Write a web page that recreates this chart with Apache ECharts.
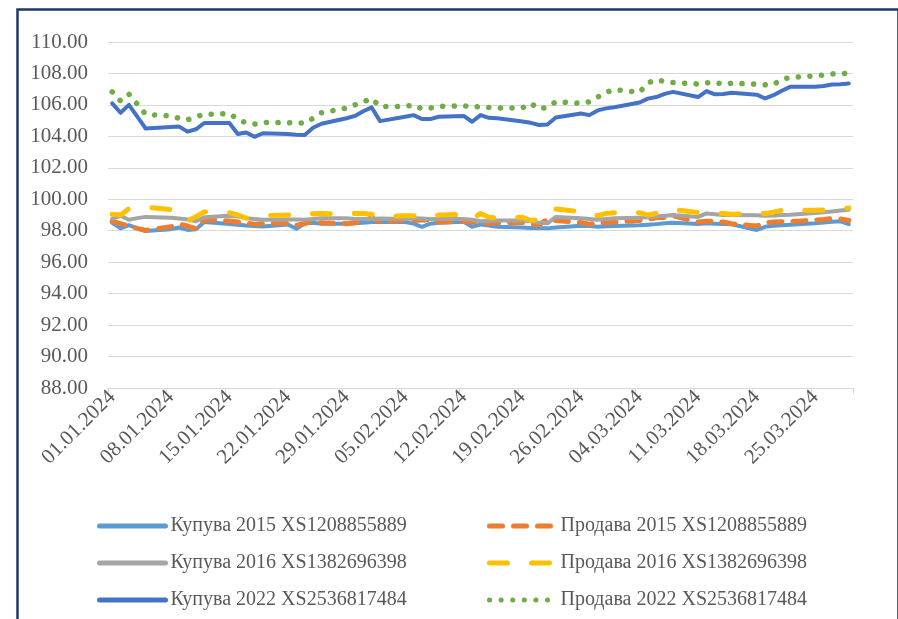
<!DOCTYPE html>
<html>
<head>
    <meta charset="utf-8">
    <title>echarts</title>
    <style>
        html, body { margin: 0; padding: 0; background: #fff; }
        #main { width: 898px; height: 619px; }
    </style>
</head>
<body>
    <div id="main"></div>
    <script src="https://cdn.jsdelivr.net/npm/echarts@6/dist/echarts.min.js"></script>
    <script>
    // calendar axis: 01.01.2024 .. 29.03.2024, values only on weekdays
    var startDate = new Date(2024, 0, 1);
    var dayCount = 89;

    var seriesNames = [
        'Купува 2015 XS1208855889', 'Продава 2015 XS1208855889',
        'Купува 2016 XS1382696398', 'Продава 2016 XS1382696398',
        'Купува 2022 XS2536817484', 'Продава 2022 XS2536817484'
    ];

    var buy2015 = [
        98.50, 98.15, 98.35, 98.15, 97.98,
        98.10, 98.20, 98.05, 98.10, 98.55,
        98.43, 98.38, 98.33, 98.30, 98.27,
        98.40, 98.12, 98.47, 98.50, 98.45,
        98.45, 98.47, 98.50, 98.55, 98.57,
        98.55, 98.45, 98.25, 98.45, 98.50,
        98.57, 98.25, 98.40, 98.33, 98.25,
        98.20, 98.18, 98.17, 98.15, 98.20,
        98.32, 98.30, 98.25, 98.28, 98.30,
        98.35, 98.38, 98.42, 98.47, 98.50,
        98.42, 98.47, 98.45, 98.43, 98.41,
        98.05, 98.25, 98.32, 98.35, 98.38,
        98.47, 98.52, 98.57, 98.60, 98.42
    ];
    var sell2015 = [
        98.60, 98.45, 98.30, 98.15, 98.02,
        98.25, 98.42, 98.30, 98.12, 98.70,
        98.62, 98.55, 98.48, 98.42, 98.45,
        98.50, 98.35, 98.45, 98.60, 98.50,
        98.45, 98.50, 98.60, 98.85, 98.55,
        98.68, 98.65, 98.68, 98.68, 98.55,
        98.60, 98.55, 98.50, 98.47, 98.50,
        98.52, 98.45, 98.36, 98.74, 98.65,
        98.52, 98.42, 98.47, 98.52, 98.55,
        98.65, 98.72, 98.82, 98.85, 98.95,
        98.55, 98.60, 98.60, 98.55, 98.45,
        98.30, 98.50, 98.55, 98.57, 98.58,
        98.68, 98.72, 98.78, 98.75, 98.65
    ];
    var buy2016 = [
        98.75, 98.95, 98.70, 98.80, 98.88,
        98.82, 98.78, 98.72, 98.60, 98.85,
        98.95, 98.90, 98.80, 98.75, 98.70,
        98.72, 98.72, 98.70, 98.75, 98.80,
        98.80, 98.75, 98.75, 98.75, 98.78,
        98.75, 98.80, 98.78, 98.75, 98.75,
        98.74, 98.70, 98.60, 98.62, 98.65,
        98.65, 98.60, 98.50, 98.47, 98.88,
        98.80, 98.75, 98.70, 98.75, 98.80,
        98.83, 98.85, 98.90, 98.95, 99.00,
        98.88, 99.10, 99.05, 99.00, 99.00,
        98.98, 98.95, 98.97, 99.00, 99.02,
        99.12, 99.17, 99.22, 99.28, 99.33
    ];
    var sell2016 = [
        99.05, 99.00, 99.40, 99.45, 99.50,
        99.35, 99.00, 98.60, 98.90, 99.20,
        99.15, 99.00, 98.80, 98.88, 98.95,
        99.00, 98.95, 99.00, 99.08, 99.10,
        99.05, 99.10, 99.10, 99.05, 98.90,
        98.95, 98.95, 98.90, 98.85, 99.00,
        99.05, 98.75, 99.10, 98.85, 98.80,
        98.85, 98.65, 98.70, 99.00, 99.38,
        99.20, 99.21, 98.95, 99.10, 99.15,
        99.15, 99.00, 99.10, 99.30, 99.35,
        99.15, 99.15, 99.10, 99.10, 99.05,
        99.08, 99.10, 99.18, 99.30, 99.30,
        99.30, 99.32, 99.35, 99.40, 99.45
    ];
    var buy2022 = [
        106.10, 105.50, 106.00, 105.25, 104.50,
        104.60, 104.62, 104.30, 104.45, 104.85,
        104.85, 104.15, 104.25, 103.97, 104.20,
        104.15, 104.10, 104.08, 104.55, 104.80,
        105.15, 105.30, 105.60, 105.84, 104.97,
        105.25, 105.35, 105.10, 105.10, 105.25,
        105.30, 104.93, 105.35, 105.18, 105.15,
        104.95, 104.86, 104.72, 104.75, 105.20,
        105.45, 105.35, 105.65, 105.78, 105.85,
        106.15, 106.40, 106.50, 106.70, 106.83,
        106.50, 106.88, 106.67, 106.70, 106.77,
        106.65, 106.41, 106.62, 106.90, 107.15,
        107.15, 107.20, 107.30, 107.32, 107.36
    ];
    var sell2022 = [
        106.83, 106.26, 106.68, 106.05, 105.40,
        105.30, 105.15, 105.05, 105.25, 105.40,
        105.45, 105.10, 104.85, 104.78, 104.88,
        104.87, 104.85, 104.85, 105.15, 105.50,
        105.80, 106.00, 106.20, 106.40, 105.90,
        105.90, 106.00, 105.75, 105.80, 105.90,
        105.95, 105.85, 105.90, 105.84, 105.80,
        105.80, 106.10, 105.75, 105.85, 106.20,
        106.10, 106.20, 106.50, 106.80, 106.97,
        106.80, 107.40, 107.60, 107.48, 107.42,
        107.33, 107.40, 107.45, 107.30, 107.38,
        107.32, 107.28, 107.30, 107.62, 107.75,
        107.85, 107.90, 107.97, 108.00, 108.00
    ];

    function pad(n) { return n < 10 ? '0' + n : '' + n; }

    var days = [];
    for (var i = 0; i < dayCount; i++) {
        var d = new Date(startDate.getTime());
        d.setDate(d.getDate() + i);
        days.push(pad(d.getDate()) + '.' + pad(d.getMonth() + 1) + '.' + d.getFullYear());
    }

    // weekday values go on Mon-Fri, weekends stay empty and get bridged
    function onCalendar(vals) {
        var k = 0;
        return days.map(function(_, i) {
            return (i % 7 < 5) ? vals[k++] : null;
        });
    }

    var font = 'Liberation Serif';
    var styles = [
        { color: '#5B9BD5', width: 4, type: 'solid' },
        { color: '#ED7D31', width: 5, type: [13, 11] },
        { color: '#A5A5A5', width: 4, type: 'solid' },
        { color: '#FFC000', width: 5, type: [18, 24] },
        { color: '#4472C4', width: 4, type: 'solid' },
        { color: '#70AD47', width: 5.5, type: [0.1, 11.5] }
    ];
    var values = [buy2015, sell2015, buy2016, sell2016, buy2022, sell2022];

    var series = values.map(function(v, idx) {
        var st = styles[idx];
        return {
            name: seriesNames[idx],
            type: 'line',
            data: onCalendar(v),
            connectNulls: true,
            symbol: 'none',
            animation: false,
            itemStyle: { color: st.color },
            lineStyle: { color: st.color, width: st.width, type: st.type, cap: 'round', join: 'round' }
        };
    });

    var legendBase = {
        orient: 'vertical',
        top: 511,
        itemWidth: 66,
        itemHeight: 14,
        itemGap: 17,
        selectedMode: false,
        itemStyle: { opacity: 0 },
        lineStyle: { width: 5 },
        textStyle: { fontFamily: font, fontSize: 20, lineHeight: 20, color: '#595959' }
    };

    var myChart = echarts.init(document.getElementById('main'));
    myChart.setOption({
        backgroundColor: '#fff',
        animation: false,
        graphic: [{
            type: 'rect',
            left: 15, top: 7,
            shape: { width: 881, height: 640 },
            style: { fill: 'none', stroke: '#1F3864', lineWidth: 2.5 },
            silent: true
        }],
        legend: [
            Object.assign({}, legendBase, { left: 92, data: [seriesNames[0], seriesNames[2], seriesNames[4]] }),
            Object.assign({}, legendBase, { left: 482, data: [seriesNames[1], seriesNames[3], seriesNames[5]] })
        ],
        grid: { left: 108, right: 45, top: 42, bottom: 231 },
        xAxis: {
            type: 'category',
            data: days,
            boundaryGap: true,
            axisLine: { lineStyle: { color: '#D9D9D9', width: 1 } },
            axisTick: { show: true, interval: 6, length: 6, lineStyle: { color: '#D9D9D9' } },
            axisLabel: {
                interval: 6,
                rotate: 45,
                margin: 6,
                fontFamily: font,
                fontSize: 21,
                color: '#595959'
            },
            splitLine: { show: false }
        },
        yAxis: {
            type: 'value',
            min: 88,
            max: 110,
            interval: 2,
            axisLine: { show: false },
            axisTick: { show: false },
            axisLabel: {
                margin: 20,
                fontFamily: font,
                fontSize: 21,
                color: '#595959',
                formatter: function(v) { return v.toFixed(2); }
            },
            splitLine: { lineStyle: { color: '#D9D9D9', width: 1 } }
        },
        series: series
    });
    </script>
</body>
</html>
